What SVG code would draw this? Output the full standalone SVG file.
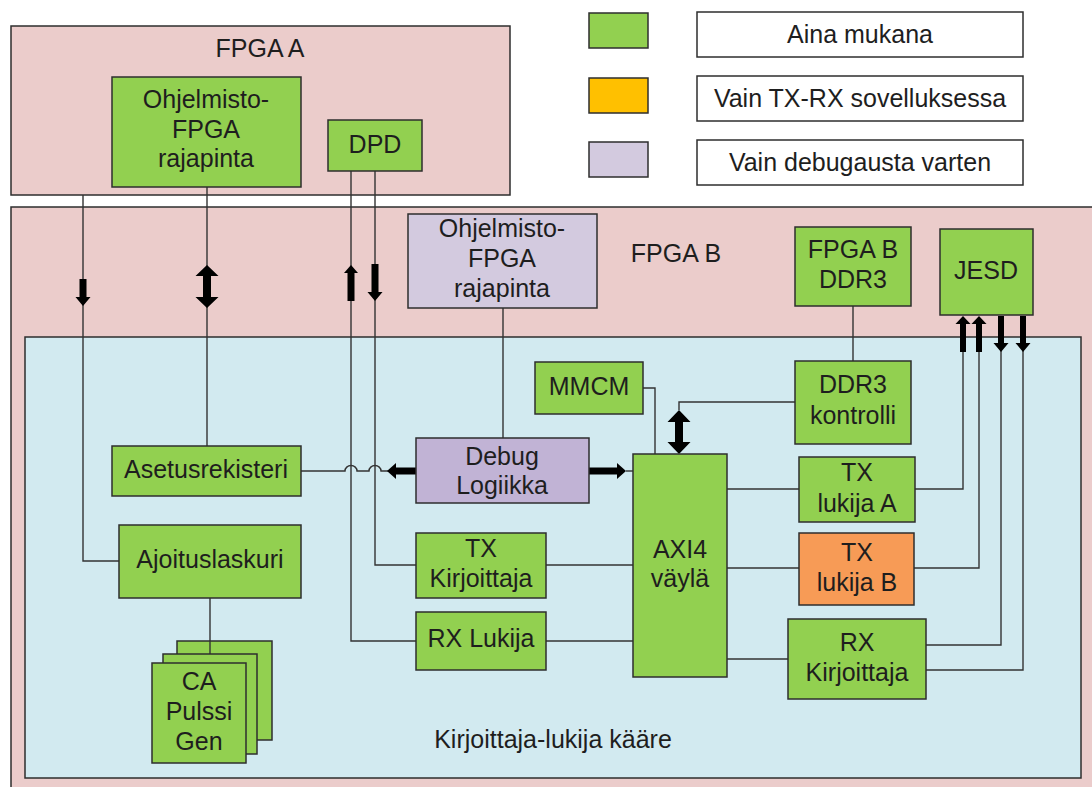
<svg xmlns="http://www.w3.org/2000/svg" width="1092" height="787" viewBox="0 0 1092 787">
<style>
text{font-family:"Liberation Sans",Arial,sans-serif;font-size:25px;fill:#1e1e1e;text-anchor:middle}
.box{stroke:#2e2e2e;stroke-width:1.5}
.g{fill:#92d050}
.p{fill:#d3cadf}
.pd{fill:#c1b3d5}
.o{fill:#f79b56}
.y{fill:#ffc000}
.w{fill:#ffffff}
.ln{fill:none;stroke:#333;stroke-width:1.4}
.ar{fill:#000}
</style>
<rect width="1092" height="787" fill="#ffffff"/>
<g id="fpga-a">
<rect class="box" x="11" y="26" width="499" height="169" fill="#ebcccb"/>
<text x="260" y="57">FPGA A</text>
</g>
<g id="fpga-b">
<rect class="box" x="11" y="207" width="1095" height="600" fill="#ebcccb"/>
<text x="676" y="262">FPGA B</text>
</g>
<g id="wrapper">
<rect class="box" x="25" y="337" width="1056" height="441" fill="#d2eaf0"/>
<text x="553" y="748">Kirjoittaja-lukija kääre</text>
</g>
<g id="legend">
<rect class="box g" x="589" y="13" width="59" height="35"/>
<rect class="box y" x="589" y="78" width="59" height="35"/>
<rect class="box p" x="589" y="142" width="59" height="35"/>
<rect class="box w" x="697" y="12" width="326" height="45"/>
<text x="860" y="43">Aina mukana</text>
<rect class="box w" x="697" y="76" width="326" height="45"/>
<text x="860" y="107">Vain TX-RX sovelluksessa</text>
<rect class="box w" x="697" y="140" width="326" height="45"/>
<text x="860" y="171">Vain debugausta varten</text>
</g>
<g id="connectors">
<path class="ln" d="M83,195 V561 H119"/>
<path class="ln" d="M207,187 V446"/>
<path class="ln" d="M351,171 V641 H416"/>
<path class="ln" d="M375,171 V565 H416"/>
<path class="ln" d="M301,471 H345 a6,5.5 0 0 1 12,0 H369 a6,5.5 0 0 1 12,0 H388"/>
<path class="ln" d="M626,471 H633"/>
<path class="ln" d="M503,308 V438"/>
<path class="ln" d="M643,388 H655 V454"/>
<path class="ln" d="M679,410 V402 H795"/>
<path class="ln" d="M853,306 V361"/>
<path class="ln" d="M546,565 H633"/>
<path class="ln" d="M546,641 H633"/>
<path class="ln" d="M727,489 H799"/>
<path class="ln" d="M727,568 H799"/>
<path class="ln" d="M727,659 H788"/>
<path class="ln" d="M963,350 V489 H915"/>
<path class="ln" d="M979,350 V568 H914"/>
<path class="ln" d="M1001,345 V645 H926"/>
<path class="ln" d="M1023,345 V670 H926"/>
<path class="ln" d="M210,598 V654"/>
<polygon class="ar" points="79.5,279 86.5,279 86.5,297 90.5,297 83,306 75.5,297 79.5,297"/>
<polygon class="ar" points="207,265 218.5,276 211,276 211,297 218.5,297 207,308 195.5,297 203,297 203,276 195.5,276"/>
<polygon class="ar" points="351,265 358,273 354.5,273 354.5,301 347.5,301 347.5,273 344,273"/>
<polygon class="ar" points="371.5,264 378.5,264 378.5,292 382.5,292 375,301 367.5,292 371.5,292"/>
<polygon class="ar" points="387,471 396,463 396,467.5 416,467.5 416,474.5 396,474.5 396,479"/>
<polygon class="ar" points="589,467.5 617,467.5 617,463 626,471 617,479 617,474.5 589,474.5"/>
<polygon class="ar" points="679,410 690.5,422 683,422 683,442 690.5,442 679,454 667.5,442 675,442 675,422 667.5,422"/>
<polygon class="ar" points="963,316 970.5,324 966,324 966,352 960,352 960,324 955.5,324"/>
<polygon class="ar" points="979,316 986.5,324 982,324 982,352 976,352 976,324 971.5,324"/>
<polygon class="ar" points="998,316 1004,316 1004,343 1008.5,343 1001,352 993.5,343 998,343"/>
<polygon class="ar" points="1020,316 1026,316 1026,343 1030.5,343 1023,352 1015.5,343 1020,343"/>
</g>
<g id="sw-fpga-a">
<rect class="box g" x="112" y="77" width="189" height="110"/>
<text x="206" y="108">Ohjelmisto-</text>
<text x="206" y="138">FPGA</text>
<text x="206" y="167">rajapinta</text>
</g>
<g id="dpd">
<rect class="box g" x="328" y="120" width="94" height="51"/>
<text x="375" y="153">DPD</text>
</g>
<g id="sw-fpga-b">
<rect class="box p" x="408" y="214" width="189" height="94"/>
<text x="502" y="237">Ohjelmisto-</text>
<text x="502" y="267">FPGA</text>
<text x="502" y="297">rajapinta</text>
</g>
<g id="fpga-b-ddr3">
<rect class="box g" x="795" y="227" width="116" height="79"/>
<text x="853" y="258">FPGA B</text>
<text x="853" y="288">DDR3</text>
</g>
<g id="jesd">
<rect class="box g" x="940" y="229" width="93" height="86"/>
<text x="986" y="279">JESD</text>
</g>
<g id="mmcm">
<rect class="box g" x="535" y="362" width="108" height="52"/>
<text x="589" y="395">MMCM</text>
</g>
<g id="ddr3-kontrolli">
<rect class="box g" x="795" y="361" width="116" height="83"/>
<text x="853" y="393">DDR3</text>
<text x="853" y="424">kontrolli</text>
</g>
<g id="asetusrekisteri">
<rect class="box g" x="112" y="446" width="189" height="50"/>
<text x="206" y="478">Asetusrekisteri</text>
</g>
<g id="debug-logiikka">
<rect class="box pd" x="416" y="438" width="173" height="65"/>
<text x="502" y="465">Debug</text>
<text x="502" y="494">Logiikka</text>
</g>
<g id="axi4">
<rect class="box g" x="633" y="454" width="94" height="223"/>
<text x="680" y="558">AXI4</text>
<text x="680" y="587">väylä</text>
</g>
<g id="tx-lukija-a">
<rect class="box g" x="799" y="457" width="116" height="65"/>
<text x="857" y="481">TX</text>
<text x="857" y="512">lukija A</text>
</g>
<g id="tx-lukija-b">
<rect class="box o" x="799" y="533" width="115" height="72"/>
<text x="857" y="561">TX</text>
<text x="857" y="591">lukija B</text>
</g>
<g id="rx-kirjoittaja">
<rect class="box g" x="788" y="619" width="138" height="80"/>
<text x="857" y="651">RX</text>
<text x="857" y="681">Kirjoittaja</text>
</g>
<g id="tx-kirjoittaja">
<rect class="box g" x="416" y="533" width="130" height="65"/>
<text x="481" y="557">TX</text>
<text x="481" y="587">Kirjoittaja</text>
</g>
<g id="rx-lukija">
<rect class="box g" x="416" y="612" width="130" height="58"/>
<text x="481" y="647">RX Lukija</text>
</g>
<g id="ajoituslaskuri">
<rect class="box g" x="119" y="525" width="182" height="73"/>
<text x="210" y="568">Ajoituslaskuri</text>
</g>
<g id="ca-pulssi-gen">
<rect class="box g" x="177" y="641" width="95" height="99"/>
<path class="ln" d="M210,641 V654"/>
<rect class="box g" x="163" y="654" width="94" height="100"/>
<rect class="box g" x="152" y="663" width="94" height="100"/>
<text x="199" y="690">CA</text>
<text x="199" y="720">Pulssi</text>
<text x="199" y="750">Gen</text>
</g>
</svg>
